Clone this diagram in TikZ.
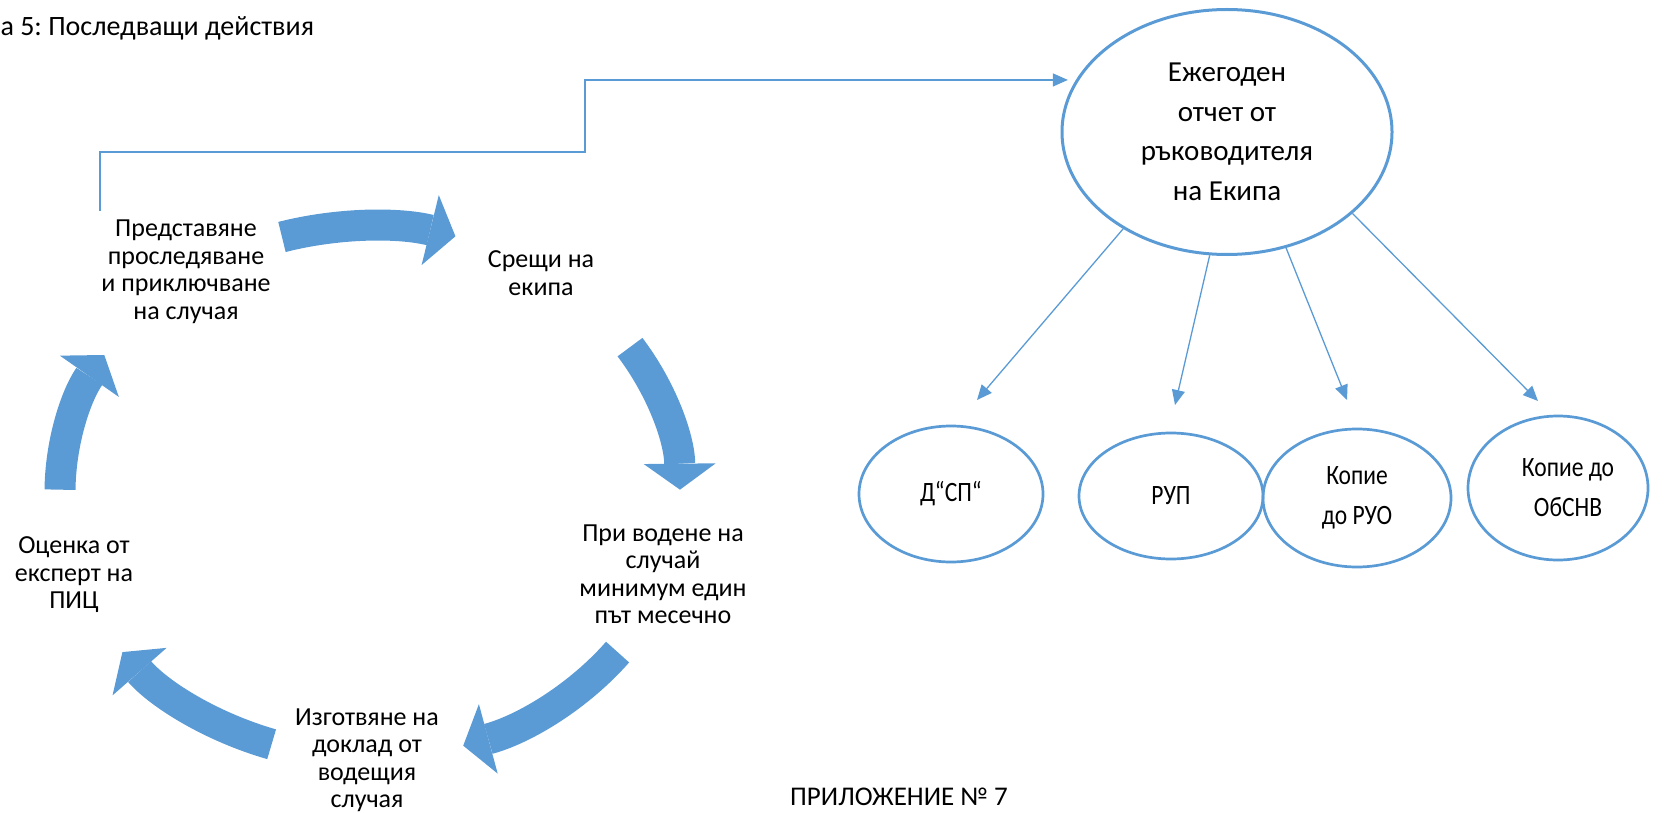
\documentclass[tikz,border=0pt]{standalone}
\usepackage{fontspec}
\setmainfont{Carlito}
\newfontfamily\narrowfont[FakeStretch=0.84]{Carlito}
\usetikzlibrary{arrows.meta,shapes.geometric}
\definecolor{wordblue}{HTML}{5B9BD5}
\frenchspacing

\begin{document}
\begin{tikzpicture}[x=1pt,y=-1pt,
    cyc/.style={align=center, font=\fontsize{26}{27.5}\selectfont},
    oval/.style={ellipse, draw=wordblue, line width=2.7pt, inner sep=0pt, align=center, font=\narrowfont\fontsize{28}{40}\selectfont},
    link/.style={wordblue, line width=1.3pt, -{Triangle[length=15pt,width=13pt]}},
    cyclearrow/.style={wordblue, line width=31pt, -{Triangle[length=26pt,width=72pt,line width=0pt]}}]
    \useasboundingbox (0,0) rectangle (1678,813);

    \node[anchor=base west, font=\fontsize{28}{30}\selectfont] (title) at (-3,36) {а 5: Последващи действия};

    \node[cyc] (pres) at (186,272) {Представяне\\проследяване\\и приключване\\на случая};
    \node[cyc] (meet) at (541,273) {Срещи на\\екипа};
    \node[cyc] (monthly) at (663,574) {При водене на\\случай\\минимум един\\път месечно};
    \node[cyc] (draft) at (367,760) {Изготвяне на\\доклад от\\водещия\\случая};
    \node[cyc] (assess) at (74,575) {Оценка от\\експерт на\\ПИЦ};

    \coordinate (hub) at (370,492);
    \foreach \s/\e in {180.5/211, 253.5/286, 327/359.5, 397/432.5, 108.5/143}
        \draw[cyclearrow] (hub) ++(\s:310 and 266) arc[start angle=\s, end angle=\e, x radius=310, y radius=266];

    \node[oval, line width=3pt, minimum width=330, minimum height=245, font=\fontsize{29}{39.5}\selectfont] (report) at (1227,132) {Ежегоден\\отчет от\\ръководителя\\на Екипа};
    \node[oval, minimum width=184, minimum height=136] (dsp) at (951,494) {Д“СП“};
    \node[oval, minimum width=184, minimum height=126] (rup) at (1171,496) {РУП};
    \node[oval, minimum width=188, minimum height=138] (ruo) at (1357,498) {Копие\\до РУО};
    \node[oval, minimum width=180, minimum height=144] (obsnv) at (1558,488) {\hspace*{20pt}Копие до\\\hspace*{20pt}ОбСНВ};

    \coordinate (pstart) at (100,211);
    \coordinate (jog) at (585,152);
    \draw[link, shorten >=8pt] (pstart) |- (jog) |- (report.161);

    \coordinate (dsp-in) at (977,400);
    \coordinate (rup-in) at (1175,405);
    \coordinate (ruo-in) at (1347,400);
    \coordinate (obsnv-in) at (1538,401);
    \draw[link] (report.223.6) -- (dsp-in);
    \draw[link] (report.262.6) -- (rup-in);
    \draw[link] (report.297.5) -- (ruo-in);
    \draw[link] (report.327.4) -- (obsnv-in);

    \node[font=\fontsize{27}{30}\selectfont, inner sep=0pt] (annex) at (899,797) {ПРИЛОЖЕНИЕ № 7};
\end{tikzpicture}
\end{document}
